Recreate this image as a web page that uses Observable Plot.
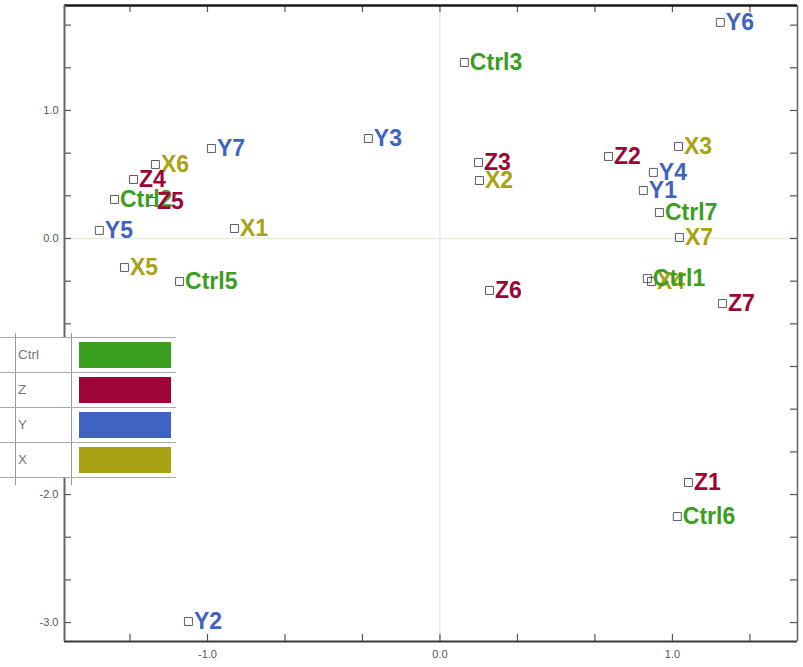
<!DOCTYPE html>
<html>
<head>
<meta charset="utf-8">
<script src="https://cdn.jsdelivr.net/npm/d3@7"></script>
<script src="https://cdn.jsdelivr.net/npm/@observablehq/plot@0.6"></script>
<style>
  body { margin: 0; background: #fff; }
  #wrap { position: relative; width: 803px; height: 667px; }
  .legend {
    position: absolute; left: 0; top: 337px; width: 176px; background: #fff;
    border-top: 1px solid #a9a9a9; font-family: "Liberation Sans", Arial, sans-serif;
  }
  .legend .row { position: relative; height: 34px; border-bottom: 1px solid #a9a9a9; }
  .legend .lab {
    position: absolute; left: 15px; top: 0; width: 56px; height: 100%; box-sizing: border-box;
    padding-left: 3px; line-height: 34px; font-size: 13.5px; color: #777;
  }
  .legend .sw { position: absolute; left: 79px; top: 4px; width: 92px; height: 26px; }
  .legend .vline { position: absolute; top: -5px; height: 152px; width: 1px; background: #999; }
</style>
</head>
<body>
<div id="wrap"></div>
<script>
// Sample groups and their colours
const groups = ["Ctrl", "Z", "Y", "X"];
const groupColors = ["#3a9e1e", "#9c0536", "#3f63c0", "#aaa214"];

// Sample scores on the two components (drawing order: X, Ctrl, Z, Y)
const sampleNames = [
  "X1", "X2", "X3", "X4", "X5", "X6", "X7",
  "Ctrl1", "Ctrl2", "Ctrl3", "Ctrl5", "Ctrl6", "Ctrl7",
  "Z1", "Z2", "Z3", "Z4", "Z5", "Z6", "Z7",
  "Y1", "Y2", "Y3", "Y4", "Y5", "Y6", "Y7"
];
const sampleGroups = [
  "X", "X", "X", "X", "X", "X", "X",
  "Ctrl", "Ctrl", "Ctrl", "Ctrl", "Ctrl", "Ctrl",
  "Z", "Z", "Z", "Z", "Z", "Z", "Z",
  "Y", "Y", "Y", "Y", "Y", "Y", "Y"
];
const comp1 = [
  -0.884, 0.170, 1.026, 0.910, -1.357, -1.224, 1.030,
  0.892, -1.400, 0.105, -1.120, 1.021, 0.944,
  1.069, 0.725, 0.166, -1.318, -1.241, 0.213, 1.215,
  0.875, -1.082, -0.308, 0.918, -1.465, 1.206, -0.983
];
const comp2 = [
  0.078, 0.453, 0.719, -0.336, -0.227, 0.578, 0.008,
  -0.313, 0.305, 1.375, -0.336, -2.172, 0.203,
  -1.906, 0.641, 0.594, 0.461, 0.289, -0.406, -0.508,
  0.375, -2.992, 0.781, 0.516, 0.063, 1.688, 0.703
];

// Axis extents, labelled ticks and minor (inward) ticks
const xDomain = [-1.615, 1.538];
const yDomain = [-3.148, 1.820];
const xTickLabels = [-1, 0, 1];
const yTickLabels = [1, 0, -1, -2, -3];
const xMinorTicks = [-4/3, -1, -2/3, -1/3, 0, 1/3, 2/3, 1, 4/3];
const yMinorTicks = [5/3, 4/3, 1, 2/3, 1/3, 0, -1/3, -2/3, -1, -4/3, -5/3, -2, -7/3, -8/3, -3];

const points = sampleNames.map((name, i) => ({
  name, group: sampleGroups[i], c1: comp1[i], c2: comp2[i]
}));

const fmt = d => d.toFixed(1);

const chart = Plot.plot({
  width: 803,
  height: 667,
  marginLeft: 64,
  marginRight: 6,
  marginTop: 5,
  marginBottom: 26,
  x: { domain: xDomain },
  y: { domain: yDomain },
  color: { domain: groups, range: groupColors },
  style: { fontFamily: "Liberation Sans, Arial, sans-serif", background: "#fff", overflow: "visible" },
  marks: [
    // zero reference lines
    Plot.ruleX([0], { stroke: "#ece9da", strokeWidth: 1.5 }),
    Plot.ruleY([0], { stroke: "#ece9da", strokeWidth: 1.5 }),
    // inward ticks on all four sides
    Plot.ruleX(xMinorTicks, { x: d => d, y1: yDomain[0], y2: yDomain[0], insetBottom: 7, stroke: "#555", strokeWidth: 1.2 }),
    Plot.ruleX(xMinorTicks, { x: d => d, y1: yDomain[1], y2: yDomain[1], insetTop: 7, stroke: "#555", strokeWidth: 1.2 }),
    Plot.ruleY(yMinorTicks, { y: d => d, x1: xDomain[0], x2: xDomain[0], insetLeft: 7, stroke: "#555", strokeWidth: 1.2 }),
    Plot.ruleY(yMinorTicks, { y: d => d, x1: xDomain[1], x2: xDomain[1], insetRight: 7, stroke: "#555", strokeWidth: 1.2 }),
    // frame
    Plot.ruleY([yDomain[1]], { stroke: "#1a1a1a", strokeWidth: 2.5 }),
    Plot.ruleY([yDomain[0]], { stroke: "#3a3a3a", strokeWidth: 2 }),
    Plot.ruleX([xDomain[0]], { stroke: "#666", strokeWidth: 2 }),
    Plot.ruleX([xDomain[1]], { stroke: "#666", strokeWidth: 1.5 }),
    // tick labels
    Plot.axisX({ ticks: xTickLabels, tickSize: 0, tickPadding: 9, tickFormat: fmt, fontSize: 11, color: "#555", label: null }),
    Plot.axisY({ ticks: yTickLabels, tickSize: 0, tickPadding: 6, tickFormat: fmt, fontSize: 11, color: "#555", label: null }),
    // samples
    Plot.dot(points, { x: "c1", y: "c2", symbol: "square", r: 4.5, stroke: "#5a5c6a", strokeWidth: 1, fill: "none" }),
    Plot.text(points, {
      x: "c1", y: "c2", text: "name", fill: "group", dx: 5.5, textAnchor: "start",
      fontSize: 23, fontWeight: "bold"
    })
  ]
});

const wrap = d3.select("#wrap");
wrap.node().appendChild(chart);

// Group legend table
const legend = wrap.append("div").attr("class", "legend");
legend.append("div").attr("class", "vline").style("left", "15px");
legend.append("div").attr("class", "vline").style("left", "71px");
groups.forEach((g, i) => {
  const row = legend.append("div").attr("class", "row");
  row.append("div").attr("class", "lab").text(g);
  row.append("div").attr("class", "sw").style("background", groupColors[i]);
});
</script>
</body>
</html>
